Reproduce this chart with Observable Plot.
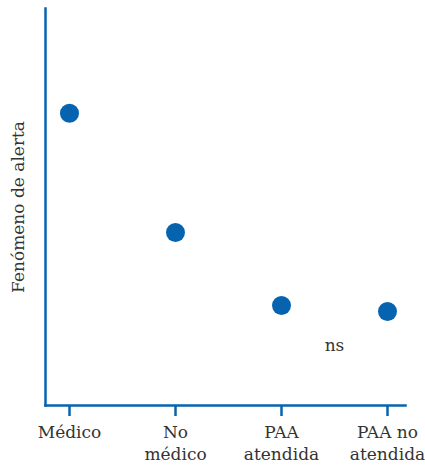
<!DOCTYPE html>
<html>
<head>
<meta charset="utf-8">
<script src="https://cdn.jsdelivr.net/npm/d3@7"></script>
<script src="https://cdn.jsdelivr.net/npm/@observablehq/plot@0.6"></script>
<style>
  html, body { margin: 0; padding: 0; background: #fff; }
</style>
</head>
<body>
<div id="chart"></div>
<script>
const categories = ["Médico", "No médico", "PAA atendida", "PAA no atendida"];
const tickLabels = ["Médico", "No\nmédico", "PAA\natendida", "PAA no\natendida"];
const values = [73.6, 43.6, 25.2, 23.7];
const annotationText = ["ns"];
const annotationValue = [15.1];

const data = categories.map((c, i) => ({category: c, value: values[i]}));
const blue = "#0663b0";

const chart = Plot.plot({
  width: 425,
  height: 468,
  marginLeft: 45,
  marginRight: 20,
  marginTop: 8,
  marginBottom: 63,
  style: {fontFamily: "'DejaVu Serif', serif", fontSize: "17px", color: "#333", background: "#fff"},
  x: {type: "point", domain: categories, padding: 0, insetLeft: 24, insetRight: 18},
  y: {domain: [0, 100], axis: null},
  marks: [
    Plot.frame({anchor: "left", stroke: blue, strokeWidth: 2.5}),
    Plot.frame({anchor: "bottom", stroke: blue, strokeWidth: 2.5}),
    Plot.axisX({
      color: blue,
      tickSize: 11,
      strokeWidth: 2.5,
      tickFormat: () => "",
      label: null
    }),
    Plot.axisX({
      tickSize: 0,
      tickPadding: 17,
      fill: "#333",
      fontSize: 17,
      lineHeight: 1.3,
      label: null,
      tickFormat: (d) => tickLabels[categories.indexOf(d)]
    }),
    Plot.text(["Fenómeno de alerta"], {
      frameAnchor: "left",
      textAnchor: "middle",
      rotate: -90,
      dx: -27,
      fill: "#333",
      fontSize: 17,
      text: (d) => d
    }),
    Plot.dot(data, {x: "category", y: "value", r: 9.5, fill: blue, stroke: "none"}),
    Plot.text(annotationText.map((t, i) => ({t, v: annotationValue[i]})), {
      x: () => "PAA no atendida",
      y: "v",
      text: "t",
      dx: -53,
      fill: "#333",
      fontSize: 17
    })
  ]
});
document.getElementById("chart").appendChild(chart);
</script>
</body>
</html>
